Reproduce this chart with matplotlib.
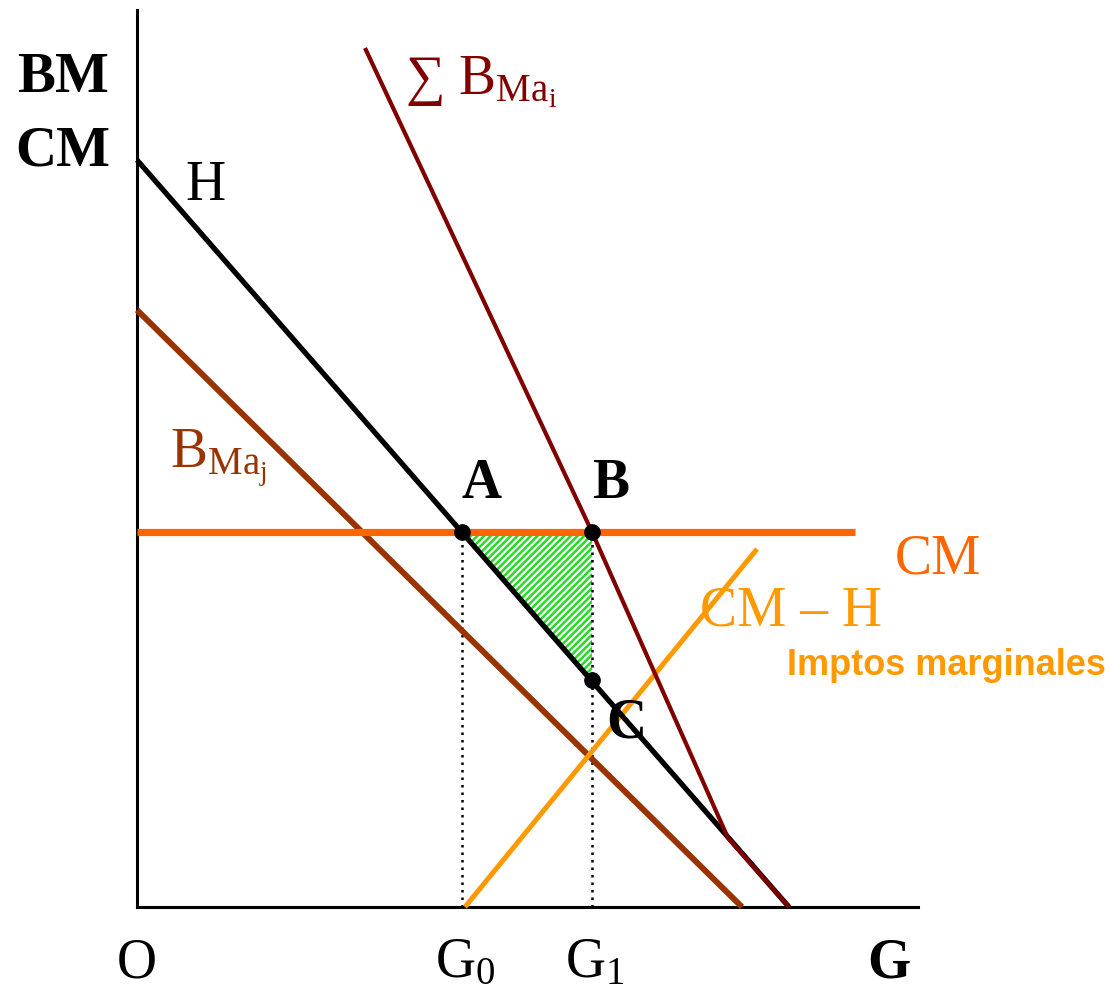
import matplotlib.pyplot as plt
from matplotlib.patches import Polygon

plt.rcParams['mathtext.fontset'] = 'custom'
plt.rcParams['mathtext.rm'] = 'Liberation Serif'
plt.rcParams['mathtext.it'] = 'Liberation Serif'
plt.rcParams['hatch.linewidth'] = 1.8

# curves (units: horizontal = G, vertical = BM / CM)
h_x = [0, 652]
h_y = [747, 0]
sum_x = [228, 455, 591, 652]
sum_y = [859, 375, 69, 0]
bmaj_x = [0, 605]
bmaj_y = [597, 0]
cm_x = [0, 718]
cm_y = [375, 375]
cmh_x = [328, 620]
cmh_y = [0, 358]

# points A, B, C
pts_x = [325, 455, 455]
pts_y = [375, 375, 227]
g0 = 325
g1 = 455

fig = plt.figure(figsize=(11.19, 9.94), dpi=100)
ax = fig.add_axes([0, 0, 1, 1])
ax.set_xlim(-137, 982)
ax.set_ylim(-87, 907)
ax.axis('off')

serif = 'Liberation Serif'

# shaded triangle
tri = Polygon(list(zip(pts_x, pts_y)), closed=True, facecolor='none',
              edgecolor='#22DD22', hatch='/////', linewidth=0, zorder=1)
ax.add_patch(tri)

# axes
ax.plot([0, 0], [0, 897], color='black', lw=2.2, zorder=2)
ax.plot([0, 781], [0, 0], color='black', lw=2.2, zorder=2)

# dotted guides
ax.plot([g0, g0], [0, 375], color='black', lw=1.8, ls=(0, (1, 2)), zorder=2)
ax.plot([g1, g1], [0, 375], color='black', lw=1.8, ls=(0, (1, 2)), zorder=2)

ax.plot(bmaj_x, bmaj_y, color='#993300', lw=4.3, solid_capstyle='butt', zorder=3)
ax.plot(cmh_x, cmh_y, color='#FF9900', lw=3.6, solid_capstyle='butt', zorder=3)
ax.plot(cm_x, cm_y, color='#FF6600', lw=5.2, solid_capstyle='butt', zorder=3)
ax.plot(h_x, h_y, color='black', lw=3.8, solid_capstyle='butt', zorder=4)
ax.plot(sum_x, sum_y, color='#800000', lw=3.0, solid_capstyle='butt', zorder=5)
ax.plot(pts_x, pts_y, 'o', color='black', ms=11, zorder=6)

# labels
ax.text(-120, 815, 'BM', fontsize=41, fontweight='bold', family=serif)
ax.text(-122, 742, 'CM', fontsize=41, fontweight='bold', family=serif)
ax.text(48, 707, 'H', fontsize=40, family=serif)
ax.text(268, 812, r'$\sum$ B$_{\mathrm{Ma}_{\mathrm{i}}}$', fontsize=40,
        family=serif, color='#800000')
ax.text(33, 439, r'B$_{\mathrm{Ma}_{\mathrm{j}}}$', fontsize=40,
        family=serif, color='#993300')
ax.text(345, 409, 'A', fontsize=40, fontweight='bold', family=serif, ha='center')
ax.text(474, 409, 'B', fontsize=40, fontweight='bold', family=serif, ha='center')
ax.text(489, 169, 'C', fontsize=40, fontweight='bold', family=serif, ha='center')
ax.text(758, 334, 'CM', fontsize=40, family=serif, color='#FF6600')
ax.text(563, 282, 'CM \u2013 H', fontsize=40, family=serif, color='#FF9900')
ax.text(650, 232, 'Imptos marginales', fontsize=26, fontweight='bold',
        family='Liberation Sans', color='#FF9900')
ax.text(0, -70, 'O', fontsize=40, family=serif, ha='center')
ax.text(298, -70, r'G$_0$', fontsize=40, family=serif)
ax.text(428, -70, r'G$_1$', fontsize=40, family=serif)
ax.text(752, -70, 'G', fontsize=40, fontweight='bold', family=serif, ha='center')

fig.savefig('out.png', dpi=100)
